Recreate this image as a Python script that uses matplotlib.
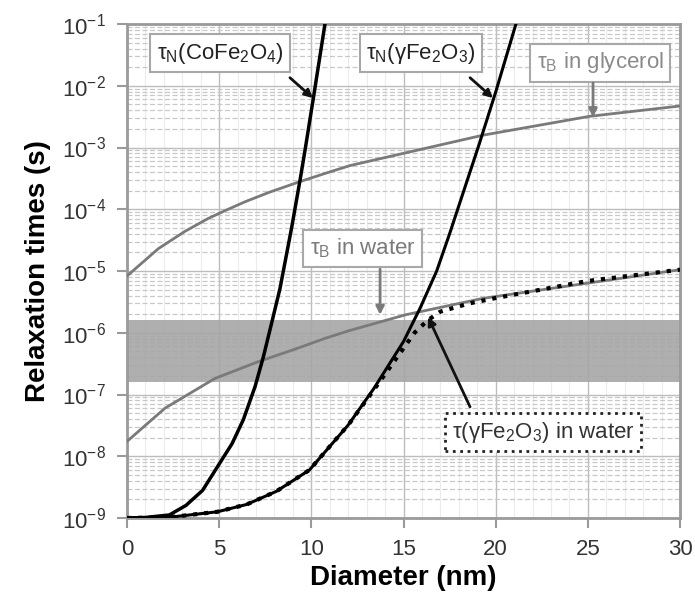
import numpy as np
import matplotlib
matplotlib.use("Agg")
import matplotlib.pyplot as plt
from matplotlib.ticker import FuncFormatter, LogLocator, MultipleLocator

plt.rcParams['font.family'] = ['Liberation Sans', 'DejaVu Sans']
plt.rcParams['mathtext.fontset'] = 'custom'
plt.rcParams['mathtext.rm'] = 'Liberation Sans'
plt.rcParams['mathtext.it'] = 'Liberation Sans:italic'
plt.rcParams['mathtext.bf'] = 'Liberation Sans:bold'

# tau_N CoFe2O4
d_co = [0, 1, 2.3, 3.2, 4.1, 5.05, 5.7, 6.31, 6.95, 7.4, 7.8, 8.3, 8.94, 9.39, 9.66, 10.11, 10.74]
t_co = [1.0e-9, 1.02e-9, 1.12e-9, 1.6e-9, 2.8e-9, 7.9e-9, 1.6e-8, 3.9e-8, 1.35e-7, 4.1e-7,
        1.26e-6, 5.2e-6, 5.2e-5, 3.0e-4, 9.1e-4, 6.3e-3, 1.0e-1]

# tau_N gamma-Fe2O3
d_fe = [0, 2.2, 4.9, 6.5, 8.1, 9.9, 12.0, 13.4, 15.0, 15.9, 16.8, 17.5, 19.1, 20.0, 21.1]
t_fe = [1.0e-9, 1.02e-9, 1.26e-9, 1.66e-9, 2.7e-9, 6.0e-9, 3.2e-8, 1.26e-7, 7.2e-7,
        2.5e-6, 1.0e-5, 4.0e-5, 1.12e-3, 7.9e-3, 1.0e-1]

# tau_B in glycerol
d_gly = [0, 1.7, 3.15, 4.41, 5.32, 6.4, 7.67, 9.3, 10.74, 12.1, 19.3, 25.1, 30]
t_gly = [8.3e-6, 2.3e-5, 4.4e-5, 7.1e-5, 9.5e-5, 1.32e-4, 1.86e-4, 2.75e-4, 3.8e-4,
         5.1e-4, 1.58e-3, 3.2e-3, 4.7e-3]

# tau_B in water
d_wat = [0, 2.06, 4.77, 7.12, 8.94, 10.74, 12.0, 15.1, 19.3, 30]
t_wat = [1.74e-8, 6.0e-8, 1.82e-7, 3.4e-7, 5.2e-7, 8.1e-7, 1.07e-6, 1.95e-6, 3.6e-6, 1.05e-5]

# effective tau gamma-Fe2O3 in water
d_eff = [0, 2.2, 4.9, 6.5, 8.1, 9.9, 12.0, 13.4, 15.0, 15.6, 16.3, 17.0, 18.6, 19.9, 25.0, 30]
t_eff = [1.0e-9, 1.02e-9, 1.26e-9, 1.66e-9, 2.7e-9, 6.0e-9, 3.2e-8, 1.2e-7, 5.6e-7, 1.0e-6,
         1.58e-6, 2.2e-6, 3.0e-6, 3.6e-6, 6.9e-6, 1.05e-5]

# frequency window (100 kHz - 1 MHz)
band = [1.6e-7, 1.6e-6]

fig = plt.figure(figsize=(6.95, 5.98), dpi=100)
ax = fig.add_axes([127/695, 1-518/598, 553/695, 494/598])

ax.axhspan(band[0], band[1], color='#a6a6a6', alpha=0.9, zorder=0.6, lw=0)

ax.plot(d_gly, t_gly, color='#7a7a7a', lw=2, zorder=3)
ax.plot(d_wat, t_wat, color='#7a7a7a', lw=2, zorder=3)
ax.plot(d_co, t_co, color='black', lw=2.5, zorder=4)
ax.plot(d_fe, t_fe, color='black', lw=2.2, zorder=4)
ax.plot(d_eff, t_eff, color='black', lw=3, ls=':', zorder=5)

ax.set_yscale('log')
ax.set_xlim(0, 30)
ax.set_ylim(1e-9, 1e-1)
ax.xaxis.set_major_locator(MultipleLocator(5))
ax.xaxis.set_minor_locator(MultipleLocator(1))
ax.yaxis.set_major_locator(LogLocator(base=10, numticks=20))
ax.yaxis.set_minor_locator(LogLocator(base=10, subs=np.arange(2, 10), numticks=20))
ax.yaxis.set_major_formatter(FuncFormatter(lambda v, p: r'$\mathregular{10^{%d}}$' % round(np.log10(v))))

ax.set_axisbelow(True)
ax.grid(True, which='major', color='#bdbdbd', lw=1.0)
ax.grid(True, which='minor', axis='y', color='#c8c8c8', lw=0.9, ls=(0, (4, 2)))
ax.grid(True, which='minor', axis='x', color='#ececec', lw=0.8)

for s in ax.spines.values():
    s.set_color('#9a9a9a')
    s.set_linewidth(2)
ax.tick_params(which='major', length=7, width=1.5, color='#9a9a9a', labelsize=16,
               labelcolor='#333333', pad=8)
ax.tick_params(which='minor', length=0)

ax.set_xlabel('Diameter (nm)', fontsize=20, fontweight='bold', labelpad=4)
ax.set_ylabel('Relaxation times (s)', fontsize=20, fontweight='bold', labelpad=8)

box = dict(boxstyle='square,pad=0.3', fc='white', ec='#a8a8a8', lw=1.5)

def label(x, y, s, color, bstyle):
    ax.text(x, y, s, fontsize=16, color=color, ha='center', va='center', bbox=bstyle, zorder=6)

def arrow(x0, y0, x1, y1, color):
    ax.annotate('', xy=(x1, y1), xytext=(x0, y0), zorder=6,
                arrowprops=dict(arrowstyle='-|>', color=color, lw=2, mutation_scale=12,
                                shrinkA=0, shrinkB=0))

label(5.05, 10**-1.47, r'τ$_\mathregular{N}$(CoFe$_\mathregular{2}$O$_\mathregular{4}$)', '#222222', box)
arrow(8.84, 10**-1.87, 10.09, 10**-2.20, '#111111')

label(15.95, 10**-1.47, r'τ$_\mathregular{N}$(γFe$_\mathregular{2}$O$_\mathregular{3}$)', '#222222', box)
arrow(18.61, 10**-1.87, 19.86, 10**-2.20, '#111111')

label(25.66, 10**-1.63, r'τ$_\mathregular{B}$ in glycerol', '#8a8a8a', box)
arrow(25.28, 10**-1.955, 25.28, 10**-2.51, '#7a7a7a')

label(12.8, 10**-4.63, r'τ$_\mathregular{B}$ in water', '#7a7a7a', box)
arrow(13.73, 10**-4.97, 13.73, 10**-5.71, '#7a7a7a')

dbox = dict(boxstyle='square,pad=0.3', fc='white', ec='#222222', lw=2, ls=':')
label(22.57, 10**-7.61, r'τ(γFe$_\mathregular{2}$O$_\mathregular{3}$) in water', '#333333', dbox)
arrow(18.61, 10**-7.20, 16.33, 10**-5.745, '#111111')

fig.savefig('out.png', dpi=100)
